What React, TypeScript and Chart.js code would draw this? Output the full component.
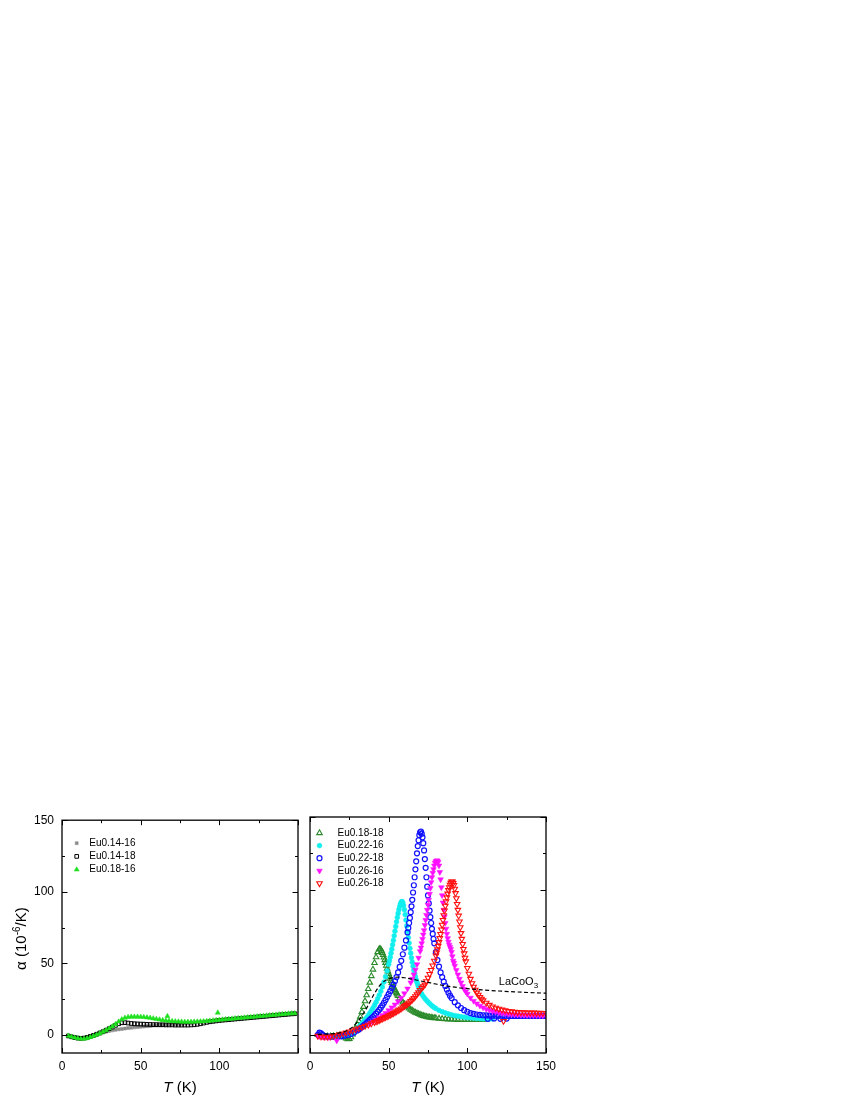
import React, { useEffect, useRef } from 'react';
import { Chart, registerables } from 'chart.js';
import { drawPoint } from 'chart.js/helpers';

Chart.register(...registerables);

// ---------------- DATA ----------------
// Tick values / labels
const X_TICKS = [0, 25, 50, 75, 100, 125, 150];
const Y_TICKS = [0, 25, 50, 75, 100, 125, 150];
const X_LABELS_LEFT = [0, 50, 100];
const X_LABELS_RIGHT = [0, 50, 100, 150];
const Y_LABELS = [0, 50, 100, 150];

// Left panel
const T_EU014_16 = [4,6,8,10,12,14,16,18,20,22,24,26,28,30,32,34,36,38,40,42,44,46,48,50,52,54,56,58,60,62,64,66,68,70,72,74,76,78,80,82,84,86,88,90,92,94,96,98,100,102,104,106,108,110,112,114,116,118,120,122,124,126,128,130,132,134,136,138,140,142,144,146,148];
const A_EU014_16 = [-0.5,-1.0,-1.5,-1.9,-2.1,-2.0,-1.6,-1.0,-0.4,0.3,1.0,1.7,2.4,2.9,3.3,3.7,4.0,4.3,4.6,4.9,5.1,5.4,5.6,5.8,6.0,6.2,6.4,6.6,6.7,6.9,7.0,7.2,7.3,7.5,7.6,7.8,7.9,8.1,8.3,8.5,8.7,8.9,9.1,9.3,9.5,9.7,9.9,10.1,10.3,10.5,10.7,10.9,11.1,11.3,11.5,11.7,11.9,12.1,12.3,12.5,12.7,12.9,13.1,13.3,13.5,13.7,13.9,14.1,14.3,14.5,14.7,14.9,15.0];

const T_EU014_18 = [4,6,8,10,12,14,16,18,20,22,24,26,28,30,32,34,36,38,40,42,44,46,48,50,52,54,56,58,60,62,64,66,68,70,72,74,76,78,80,82,84,86,88,90,92,94,96,98,100,102,104,106,108,110,112,114,116,118,120,122,124,126,128,130,132,134,136,138,140,142,144,146,148];
const A_EU014_18 = [-0.6,-1.2,-1.7,-2.1,-2.3,-2.1,-1.6,-0.9,-0.2,0.6,1.5,2.4,3.4,4.5,5.6,6.8,7.9,8.6,8.7,8.4,8.1,7.9,7.8,7.7,7.6,7.5,7.4,7.3,7.3,7.2,7.2,7.1,7.1,7.1,7.0,7.0,7.0,7.0,7.0,7.1,7.2,7.5,7.9,8.4,8.9,9.3,9.6,9.9,10.2,10.4,10.6,10.8,11.0,11.2,11.4,11.6,11.8,12.0,12.2,12.4,12.6,12.8,13.0,13.2,13.4,13.6,13.8,14.0,14.2,14.4,14.6,14.8,14.9];

const T_EU018_16 = [4,6,8,10,12,14,16,18,20,22,24,26,28,30,32,34,36,38,40,42,44,46,48,50,52,54,56,58,60,62,64,66,67,68,70,72,74,76,78,80,82,84,86,88,90,92,94,96,98,99,100,102,104,106,108,110,112,114,116,118,120,122,124,126,128,130,132,134,136,138,140,142,144,146,148];
const A_EU018_16 = [-0.5,-1.2,-1.8,-2.3,-2.6,-2.6,-2.2,-1.5,-0.7,0.2,1.1,2.2,3.4,4.6,6.0,7.6,9.4,11.0,12.0,12.6,12.8,12.8,12.8,12.7,12.6,12.3,12.0,11.6,11.2,10.8,10.4,10.1,13.2,9.9,9.7,9.5,9.4,9.3,9.2,9.2,9.2,9.3,9.4,9.5,9.6,9.8,10.0,10.2,10.4,15.6,10.6,10.8,11.0,11.2,11.4,11.6,11.8,12.0,12.2,12.4,12.6,12.8,13.0,13.2,13.4,13.6,13.8,14.0,14.2,14.4,14.6,14.8,15.0,15.1,15.2];

// Right panel
const T_EU018_18 = [5,7,9,11,13,15,17,19,21,22,23,24,25,26,27,28,29,30,31,32,33,34,35,36,37,38,39,40,41,42,43,44,44.5,45,45.5,46,46.5,47,47.5,48,48.5,49,49.5,50,50.5,51,51.5,52,52.5,53,53.5,54,54.5,55,55.5,56,57,58,59,60,61,62,63,64,65,66,67,68,69,70,71,72,73,74,75,76,77,78,79,80,82,84,86,88,90,92,94,96,98,100,102,104,106,108,110,112];
const A_EU018_18 = [0.0,-0.5,-0.8,-1.0,-1.0,-0.9,-0.6,-0.3,-0.6,-1.5,-2.4,-3.0,-2.8,-1.6,0.3,2.4,4.6,7.0,9.6,12.5,15.8,19.3,23.2,27.3,31.6,36.0,40.5,45.0,49.5,53.5,57.0,59.0,59.3,58.8,57.8,56.5,55.0,53.3,51.5,49.6,47.6,45.7,43.8,42.0,40.3,38.7,37.2,35.8,34.5,33.2,32.0,30.9,29.8,28.8,27.8,26.9,25.2,23.7,22.4,21.2,20.1,19.1,18.2,17.4,16.7,16.0,15.4,14.9,14.4,13.9,13.5,13.1,12.8,12.5,12.3,12.1,11.9,11.7,11.6,11.5,11.2,11.0,10.8,10.7,10.6,10.5,10.4,10.3,10.3,10.3,10.3,10.3,10.3,10.4,10.4,10.5];

const T_EU022_16 = [5,7,9,11,13,15,17,19,21,23,25,26,27,28,29,30,31,32,33,34,35,36,37,38,39,40,41,42,43,44,45,46,47,48,49,50,50.5,51,51.5,52,52.5,53,53.5,54,54.5,55,55.5,56,56.5,57,57.5,58,58.5,59,59.5,60,60.5,61,61.5,62,62.5,63,63.5,64,64.5,65,65.5,66,66.5,67,67.5,68,68.5,69,69.5,70,71,72,73,74,75,76,77,78,79,80,82,84,86,88,90,92,94,96,98,100,102,104,106,108,110,112,114,116];
const A_EU022_16 = [-0.5,-1.0,-1.3,-1.5,-1.5,-1.4,-1.2,-1.0,-0.7,-0.3,0.4,0.9,1.6,2.4,3.3,4.3,5.4,6.5,7.7,9.0,10.4,11.8,13.3,14.9,16.6,18.4,20.4,22.5,24.8,27.3,30.0,33.0,36.3,40.0,44.0,48.5,51.0,53.5,56.2,59.0,62.0,65.0,68.2,71.4,74.6,77.8,80.8,83.6,86.2,88.4,90.2,91.4,91.8,91.0,89.0,86.2,82.8,79.0,75.0,71.0,67.0,63.2,59.6,56.2,53.0,50.0,47.2,44.6,42.2,40.0,38.0,36.2,34.5,33.0,31.6,30.3,28.2,26.5,25.1,23.8,22.6,21.5,20.5,19.6,18.8,18.1,16.9,15.9,15.1,14.4,13.8,13.3,12.9,12.5,12.2,11.9,11.7,11.5,11.3,11.2,11.1,11.0,10.9,10.9];

const T_EU022_18 = [5,6,7,8,10,12,14,16,18,20,22,24,26,28,30,31,32,33,34,35,36,37,38,39,40,41,42,43,44,45,46,47,48,49,50,51,52,53,54,55,56,57,58,59,60,61,62,62.5,63,63.5,64,64.5,65,65.5,66,66.5,67,67.5,68,68.5,69,69.5,70,70.5,71,71.5,72,72.5,73,73.5,74,74.5,75,75.5,76,76.5,77,77.5,78,78.5,79,80,81,82,83,84,85,86,87,88,89,90,92,94,96,98,100,102,104,106,108,110,112,113,114,116,117,118,120,121,122,124,125,126,128,130,132,134,136,138,140,142,144,146,148,150];
const A_EU022_18 = [0.0,1.5,1.0,0.0,-0.8,-1.2,-1.3,-1.3,-1.2,-1.0,-0.6,-0.1,0.6,1.6,3.0,3.7,4.5,5.4,6.3,7.3,8.3,9.3,10.3,11.3,12.3,13.4,14.6,15.9,17.2,18.7,20.3,22.1,24.0,26.0,28.0,30.1,32.3,34.6,37.0,39.8,43.0,46.8,51.0,55.5,60.0,65.0,70.5,73.5,77.0,80.5,84.5,88.5,93.0,98.0,103.0,108.5,114.0,119.5,125.0,130.0,134.0,137.5,139.5,140.0,138.5,136.0,132.0,127.0,121.0,115.0,108.5,102.0,96.0,90.5,85.5,81.0,77.0,73.0,69.5,66.0,63.0,57.0,51.5,47.0,43.0,39.8,36.6,33.7,31.2,29.0,27.0,25.3,22.5,20.3,18.5,17.0,15.9,15.0,14.4,14.0,13.7,13.5,13.4,11.0,13.3,13.2,11.3,13.2,13.1,11.0,13.1,13.1,11.2,13.0,13.0,13.0,13.0,13.0,13.0,13.0,13.0,13.0,13.0,13.0,13.0,13.0];

const T_EU026_16 = [5,6,8,10,12,17,38,40,42,44,46,48,50,52,54,56,58,60,62,64,65,66,67,68,69,70,70.5,71,71.5,72,72.5,73,73.5,74,74.5,75,75.5,76,76.5,77,77.5,78,78.5,79,79.5,80,80.5,81,81.5,82,82.5,83,83.5,84,84.5,85,85.5,86,86.5,87,87.5,88,88.5,89,89.5,90,90.5,91,91.5,92,93,94,95,96,97,98,99,100,102,104,106,108,110,112,114,116,118,120,122,124,126,128,130,132,134,136,138,140,142,144,146,148,150];
const A_EU026_16 = [-0.8,-1.0,-1.3,-1.5,-1.7,-4.0,7.5,9.0,10.5,12.0,13.5,15.0,16.8,18.8,20.8,23.0,25.5,28.5,31.8,36.0,38.5,41.5,44.8,48.5,53.0,57.5,60.0,63.0,66.0,69.0,72.0,75.5,79.0,82.5,86.0,89.5,93.0,97.0,101.0,105.0,108.5,111.5,114.0,116.5,118.5,119.5,120.0,120.0,119.0,116.5,112.0,107.0,101.5,96.0,91.0,86.0,81.5,77.0,73.0,69.5,66.5,64.0,62.0,60.5,59.0,57.0,54.0,51.0,49.5,47.5,44.5,41.5,38.5,36.0,33.5,31.5,29.8,28.2,25.5,23.3,21.5,20.0,18.8,17.8,17.0,16.3,15.8,15.3,14.9,14.6,14.3,14.1,13.9,13.8,13.7,13.6,13.5,13.5,13.4,13.4,13.3,13.3,13.3];

const T_EU026_18 = [5,7,9,11,13,15,17,19,21,23,25,27,29,31,33,35,37,39,41,42,43,44,45,46,47,48,49,50,51,52,53,54,55,56,57,58,59,60,61,62,63,64,65,66,67,68,69,70,71,72,73,74,75,76,77,78,79,80,80.5,81,81.5,82,82.5,83,83.5,84,84.5,85,85.5,86,86.5,87,87.5,88,88.5,89,89.5,90,90.5,91,91.5,92,92.5,93,93.5,94,94.5,95,95.5,96,96.5,97,97.5,98,98.5,99,100,101,102,103,104,105,106,107,108,109,110,112,114,116,118,120,122,123,124,126,128,130,132,134,136,138,140,142,144,146,148,150];
const A_EU026_18 = [-0.8,-1.2,-1.4,-1.4,-1.2,-0.8,-0.3,0.3,0.9,1.5,2.2,2.9,3.7,4.5,5.3,6.1,6.9,7.8,8.7,9.15,9.6,10.1,10.6,11.1,11.6,12.1,12.6,13.15,13.7,14.3,14.9,15.5,16.1,16.75,17.4,18.1,18.9,19.7,20.5,21.3,22.2,23.2,24.2,25.3,26.5,27.8,29.2,30.7,32.3,33.4,34.5,36.8,39.2,41.8,44.6,47.7,51.0,54.6,56.6,58.8,61.2,63.8,66.5,69.4,72.5,75.7,79.0,82.3,85.6,88.8,91.8,94.6,97.2,99.6,101.6,103.3,104.6,105.4,105.5,104.5,103.0,100.5,97.5,94.0,90.0,86.0,82.0,78.0,74.0,70.0,66.0,62.5,59.0,56.0,53.0,50.5,46.0,42.0,38.5,35.5,33.0,31.0,29.0,27.5,26.0,24.8,23.7,22.0,20.6,19.5,18.6,17.9,17.3,9.5,16.8,16.4,16.1,15.8,15.6,15.5,15.4,15.3,15.2,15.2,15.1,15.1,15.0,15.0];

const T_LACOO3 = [5,10,15,20,23,26,29,32,35,38,41,44,47,50,53,56,60,65,70,75,80,85,90,95,100,110,120,130,140,150];
const A_LACOO3 = [0.3,0.5,0.8,1.5,2.6,4.5,7.5,11.5,16.5,22.5,28.5,33.5,36.8,38.5,39.5,39.7,39.3,38.3,37.2,36.1,35.0,34.0,33.1,32.4,31.8,30.9,30.2,29.6,29.1,28.7];

// ---------------- STYLE ----------------
const FONT = '"Liberation Sans", Arial, Helvetica, sans-serif';

const pts = (t: number[], a: number[]) => t.map((x, i) => ({ x, y: a[i] }));

function scatterSet(label: string, t: number[], a: number[], s: any, order: number) {
  return {
    label,
    data: pts(t, a),
    showLine: false,
    pointStyle: s.style,
    pointRadius: s.r,
    pointBorderWidth: s.bw,
    pointBackgroundColor: s.fill,
    pointBorderColor: s.stroke,
    pointRotation: s.rot || 0,
    pointHoverRadius: s.r,
    order,
  };
}

const framePlugin = {
  id: 'frame',
  afterDatasetsDraw(chart: any) {
    const { ctx, chartArea: a, scales } = chart;
    const xs = scales.x, ys = scales.y;
    ctx.save();
    ctx.strokeStyle = '#000';
    ctx.lineWidth = 1;
    ctx.beginPath();
    for (const tk of xs.ticks) {
      const px = Math.round(xs.getPixelForValue(tk.value)) + 0.5;
      const len = tk.value % 50 === 0 ? 5 : 3;
      ctx.moveTo(px, a.bottom); ctx.lineTo(px, a.bottom - len);
      ctx.moveTo(px, a.top); ctx.lineTo(px, a.top + len);
    }
    for (const tk of ys.ticks) {
      const py = Math.round(ys.getPixelForValue(tk.value)) + 0.5;
      const len = tk.value % 50 === 0 ? 5.5 : 3;
      ctx.moveTo(a.left, py); ctx.lineTo(a.left + len, py);
      ctx.moveTo(a.right, py); ctx.lineTo(a.right - len, py);
    }
    ctx.stroke();
    ctx.lineWidth = 1.3;
    ctx.strokeRect(a.left, a.top, a.right - a.left, a.bottom - a.top);
    ctx.restore();
  },
};

const decorPlugin = {
  id: 'decor',
  afterDraw(chart: any, _args: any, opts: any) {
    const { ctx, chartArea: a } = chart;
    ctx.save();
    ctx.fillStyle = '#000';
    // legend
    const lg = opts.legend;
    if (lg) {
      let row = 0;
      chart.data.datasets.forEach((ds: any) => {
        if (ds.inLegend === false) return;
        const y = a.top + lg.top + row * lg.step;
        ctx.save();
        ctx.fillStyle = ds.pointBackgroundColor;
        ctx.strokeStyle = ds.pointBorderColor;
        ctx.lineWidth = ds.pointBorderWidth;
        drawPoint(ctx, { pointStyle: ds.pointStyle, radius: ds.pointRadius, rotation: ds.pointRotation, borderWidth: ds.pointBorderWidth }, a.left + lg.marker, y);
        ctx.restore();
        ctx.font = `${lg.size}px ${FONT}`;
        ctx.textBaseline = 'middle';
        ctx.textAlign = 'left';
        ctx.fillStyle = '#000';
        ctx.fillText(ds.label, a.left + lg.text, y);
        row++;
      });
    }
    // x title: italic T + " (K)"
    {
      const cx = (a.left + a.right) / 2;
      const by = a.bottom + opts.xTitleDy;
      ctx.textBaseline = 'alphabetic';
      ctx.textAlign = 'left';
      ctx.font = `italic 15px ${FONT}`;
      const w1 = ctx.measureText('T').width;
      ctx.font = `15px ${FONT}`;
      const w2 = ctx.measureText(' (K)').width;
      const x0 = cx - (w1 + w2) / 2;
      ctx.font = `italic 15px ${FONT}`;
      ctx.fillText('T', x0, by);
      ctx.font = `15px ${FONT}`;
      ctx.fillText(' (K)', x0 + w1, by);
    }
    // y title
    if (opts.yTitle) {
      const cy = (a.top + a.bottom) / 2 + 2;
      ctx.translate(opts.yTitleX, cy);
      ctx.rotate(-Math.PI / 2);
      const parts = [
        { t: '\u03B1 (10', s: 15, dy: 0 },
        { t: '-6', s: 10, dy: -6 },
        { t: '/K)', s: 15, dy: 0 },
      ];
      let w = 0;
      for (const p of parts) { ctx.font = `${p.s}px ${FONT}`; w += ctx.measureText(p.t).width; }
      let x = -w / 2;
      ctx.textBaseline = 'alphabetic';
      for (const p of parts) {
        ctx.font = `${p.s}px ${FONT}`;
        ctx.fillText(p.t, x, p.dy);
        x += ctx.measureText(p.t).width;
      }
      ctx.setTransform(1, 0, 0, 1, 0, 0);
    }
    // annotation
    if (opts.note) {
      const n = opts.note;
      const px = chart.scales.x.getPixelForValue(n.x);
      const py = chart.scales.y.getPixelForValue(n.y);
      ctx.textBaseline = 'alphabetic';
      ctx.textAlign = 'left';
      ctx.font = `11px ${FONT}`;
      ctx.fillText(n.text, px, py);
      const w = ctx.measureText(n.text).width;
      ctx.font = `8px ${FONT}`;
      ctx.fillText(n.sub, px + w, py + 3);
    }
    ctx.restore();
  },
};

function makeConfig(side: 'left' | 'right') {
  const isLeft = side === 'left';
  const datasets: any[] = isLeft
    ? [
        scatterSet('Eu0.14-16', T_EU014_16, A_EU014_16, { style: 'rect', r: 2.1, bw: 0.5, fill: '#8a8a8a', stroke: '#8a8a8a' }, 3),
        scatterSet('Eu0.14-18', T_EU014_18, A_EU014_18, { style: 'rect', r: 2.6, bw: 1, fill: 'rgba(255,255,255,0)', stroke: '#000000' }, 2),
        scatterSet('Eu0.18-16', T_EU018_16, A_EU018_16, { style: 'triangle', r: 2.9, bw: 0.5, fill: '#1fe01f', stroke: '#1fe01f' }, 1),
      ]
    : [
        scatterSet('Eu0.18-18', T_EU018_18, A_EU018_18, { style: 'triangle', r: 3.2, bw: 1.1, fill: 'rgba(255,255,255,0)', stroke: '#2a8a2a' }, 5),
        scatterSet('Eu0.22-16', T_EU022_16, A_EU022_16, { style: 'circle', r: 2.4, bw: 0.6, fill: '#10eeee', stroke: '#10eeee' }, 4),
        scatterSet('Eu0.22-18', T_EU022_18, A_EU022_18, { style: 'circle', r: 2.5, bw: 1.2, fill: 'rgba(255,255,255,0)', stroke: '#1010ff' }, 3),
        scatterSet('Eu0.26-16', T_EU026_16, A_EU026_16, { style: 'triangle', r: 3.2, bw: 0.6, fill: '#ff10ff', stroke: '#ff10ff', rot: 180 }, 2),
        scatterSet('Eu0.26-18', T_EU026_18, A_EU026_18, { style: 'triangle', r: 3.2, bw: 1.1, fill: 'rgba(255,255,255,0)', stroke: '#ff1010', rot: 180 }, 1),
        {
          label: 'LaCoO3',
          inLegend: false,
          data: pts(T_LACOO3, A_LACOO3),
          showLine: true,
          pointRadius: 0,
          borderColor: '#000',
          borderWidth: 1.2,
          borderDash: [4, 2.5],
          cubicInterpolationMode: 'monotone',
          order: 0,
        },
      ];
  const xLabels = isLeft ? X_LABELS_LEFT : X_LABELS_RIGHT;
  return {
    type: 'scatter',
    data: { datasets },
    options: {
      animation: false,
      responsive: false,
      devicePixelRatio: 1,
      events: [],
      layout: { padding: isLeft ? { top: 12, right: 7, left: 0, bottom: 0 } : { top: 12, right: 54, left: 0, bottom: 0 } },
      plugins: {
        legend: { display: false },
        tooltip: { enabled: false },
        decor: {
          legend: isLeft ? { top: 23, step: 13.2, marker: 14.7, text: 27.3, size: 10 } : { top: 16, step: 12.6, marker: 9.5, text: 27.5, size: 10 },
          xTitleDy: 39,
          yTitle: isLeft,
          yTitleX: 26,
          note: isLeft ? null : { x: 120, y: 34.5, text: 'LaCoO', sub: '3' },
        },
      },
      scales: {
        x: {
          type: 'linear',
          min: 0,
          max: 150,
          afterBuildTicks: (s: any) => { s.ticks = X_TICKS.map((v) => ({ value: v })); },
          afterFit: (s: any) => { s.height = 47; },
          grid: { display: false, drawTicks: false },
          border: { display: false },
          ticks: {
            autoSkip: false,
            maxRotation: 0,
            padding: 6,
            color: '#000',
            font: { family: FONT, size: 12 },
            callback: (v: number) => (xLabels.includes(v) ? String(v) : ''),
          },
        },
        y: {
          type: 'linear',
          min: -12.5,
          max: 150,
          afterBuildTicks: (s: any) => { s.ticks = Y_TICKS.map((v) => ({ value: v })); },
          afterFit: (s: any) => { s.width = isLeft ? 62 : 10; },
          grid: { display: false, drawTicks: false },
          border: { display: false },
          ticks: {
            display: isLeft,
            autoSkip: false,
            padding: 8,
            color: '#000',
            font: { family: FONT, size: 12 },
            callback: (v: number) => (Y_LABELS.includes(v) ? String(v) : ''),
          },
        },
      },
    },
    plugins: [framePlugin, decorPlugin],
  };
}

export default function App() {
  const leftRef = useRef<HTMLCanvasElement>(null);
  const rightRef = useRef<HTMLCanvasElement>(null);
  useEffect(() => {
    const c1 = new Chart(leftRef.current as any, makeConfig('left') as any);
    const c2 = new Chart(rightRef.current as any, makeConfig('right') as any);
    return () => { c1.destroy(); c2.destroy(); };
  }, []);
  return (
    <div style={{ position: 'absolute', left: 0, top: 0, width: 850, height: 1100, overflow: 'hidden', background: '#fff' }}>
      <canvas ref={leftRef} width={305} height={295} style={{ position: 'absolute', left: 0, top: 805, width: 305, height: 295 }} />
      <canvas ref={rightRef} width={300} height={295} style={{ position: 'absolute', left: 300, top: 805, width: 300, height: 295 }} />
    </div>
  );
}
